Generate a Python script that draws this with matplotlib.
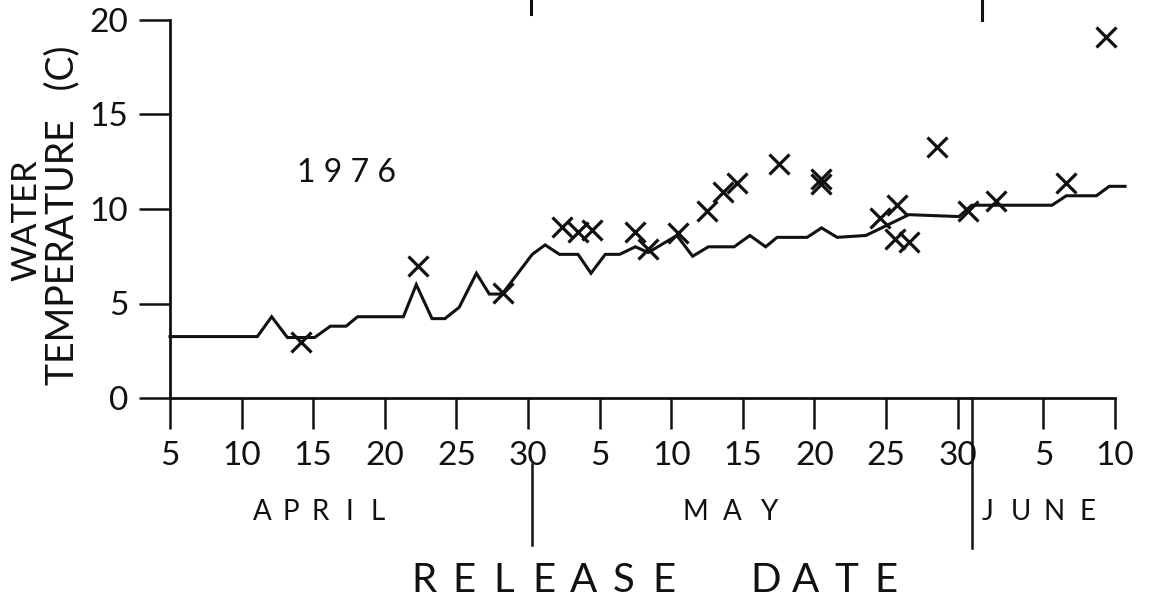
"""Water temperature at release dates, 1976.

Daily water temperature trace with the temperatures recorded at each
release date overlaid as crosses.
"""

from __future__ import annotations

from pathlib import Path

import matplotlib

matplotlib.use("Agg")
import matplotlib.pyplot as plt

# Days counted from April 5 (day 0) to June 10 (day 66)
line_day = [0, 6.1, 7.1, 8.2, 10.1, 11.2, 12.3, 13.1, 16.3, 17.2, 18.3, 19.2, 20.2, 21.4,
            22.3, 23.2, 25.3, 26.2, 27.2, 28.5, 29.4, 30.4, 31.4, 32.5, 33.4, 35.4, 36.5,
            37.6, 39.4, 40.5, 41.6, 42.4, 44.5, 45.5, 46.6, 48.6, 49.7, 51.6, 55.1, 56.0,
            61.6, 62.6, 64.7, 65.6, 66.7]
line_temp = [3.25, 3.25, 4.3, 3.2, 3.2, 3.8, 3.8, 4.3, 4.3, 6.0, 4.2, 4.2, 4.8, 6.6,
             5.5, 5.5, 7.6, 8.1, 7.6, 7.6, 6.6, 7.6, 7.6, 8.0, 7.7, 8.6, 7.5,
             8.0, 8.0, 8.6, 8.0, 8.5, 8.5, 9.0, 8.5, 8.6, 9.0, 9.7, 9.6, 10.2,
             10.2, 10.7, 10.7, 11.2, 11.2]

release_day = [9.15, 17.3, 23.25, 27.4, 28.5, 29.5, 32.5, 33.4, 35.5, 37.5, 38.6, 39.6,
               42.5, 45.5, 45.5, 49.6, 50.8, 50.6, 51.6, 53.6, 55.7, 57.7, 62.6, 65.4]
release_temp = [2.95, 7.0, 5.55, 9.05, 8.8, 8.9, 8.8, 7.9, 8.75, 9.9, 10.9, 11.4,
                12.4, 11.6, 11.3, 9.5, 10.2, 8.4, 8.25, 13.3, 9.9, 10.4, 11.4, 19.1]

tick_days = [0, 5, 10, 15, 20, 25, 30, 35, 40, 45, 50, 55, 61, 66]
tick_labels = ["5", "10", "15", "20", "25", "30", "5", "10", "15", "20", "25", "30", "5", "10"]
y_ticks = [0, 5, 10, 15, 20]

months = ["APRIL", "MAY", "JUNE"]
month_breaks = [25.3, 56.0]

FONT = ["Lato", "DejaVu Sans"]
INK = "#111111"
W, H = 1152, 601


def spaced_text(fig, text, x0, y, step, size):
    """Write text one letter at a time, left letter centred at pixel x0."""
    for i, ch in enumerate(text):
        if ch == " ":
            continue
        fig.text((x0 + i * step) / W, 1 - y / H, ch, fontsize=size, family=FONT,
                 ha="center", va="center", color=INK)


def plot_release_temperature(output_path: Path) -> Path:
    output_path = Path(output_path)
    fig = plt.figure(figsize=(W / 100, H / 100), dpi=100)
    ax = fig.add_axes([170 / W, 1 - 398 / H, 945 / W, 378 / H])

    ax.plot(line_day, line_temp, color=INK, lw=2.2, clip_on=False, solid_joinstyle="miter")
    ax.plot(release_day, release_temp, linestyle="none", marker="x", color=INK,
            markersize=15, markeredgewidth=2.3, clip_on=False)

    ax.set_xlim(0, 66)
    ax.set_ylim(0, 20)
    ax.set_xticks(tick_days)
    ax.set_xticklabels(tick_labels)
    ax.set_yticks(y_ticks)
    for s in ("top", "right"):
        ax.spines[s].set_visible(False)
    for s in ("left", "bottom"):
        ax.spines[s].set_linewidth(2.0)
        ax.spines[s].set_color(INK)
    ax.tick_params(direction="out", length=22, width=1.8, colors=INK, labelsize=24)
    ax.tick_params(axis="x", pad=9)
    ax.tick_params(axis="y", pad=8)
    for lab in ax.get_xticklabels() + ax.get_yticklabels():
        lab.set_family(FONT)

    # two-line y label, drawn as two rotated texts
    fig.text(26 / W, 1 - 220 / H, "WATER", rotation=90, fontsize=25, family=FONT,
             ha="center", va="center", color=INK)
    fig.text(62 / W, 1 - 215 / H, "TEMPERATURE   (C)", rotation=90, fontsize=27, family=FONT,
             ha="center", va="center", color=INK)

    ax.text(12.35, 11.9, "1 9 7 6", fontsize=23, family=FONT, ha="center", va="center", color=INK)

    # month names and separators below the axis
    spaced_text(fig, months[0], 262, 512, 29, 20)
    spaced_text(fig, months[1], 695, 512, 37, 20)
    spaced_text(fig, months[2], 988, 512, 33, 20)
    trans = ax.get_xaxis_transform()
    ax.plot([month_breaks[0]] * 2, [-0.175, -0.389], transform=trans, color=INK, lw=1.8, clip_on=False)
    ax.plot([month_breaks[1]] * 2, [0, -0.397], transform=trans, color=INK, lw=1.8, clip_on=False)
    ax.plot([25.2] * 2, [1.053, 1.016], transform=trans, color=INK, lw=2.2, clip_on=False)
    ax.plot([56.7] * 2, [1.053, 1.0], transform=trans, color=INK, lw=2.2, clip_on=False)

    spaced_text(fig, "RELEASE", 424, 580, 40, 29)
    spaced_text(fig, "DATE", 766, 580, 40, 29)

    fig.savefig(output_path, dpi=100)
    plt.close(fig)
    return output_path


if __name__ == "__main__":
    plot_release_temperature(Path("out.png"))
